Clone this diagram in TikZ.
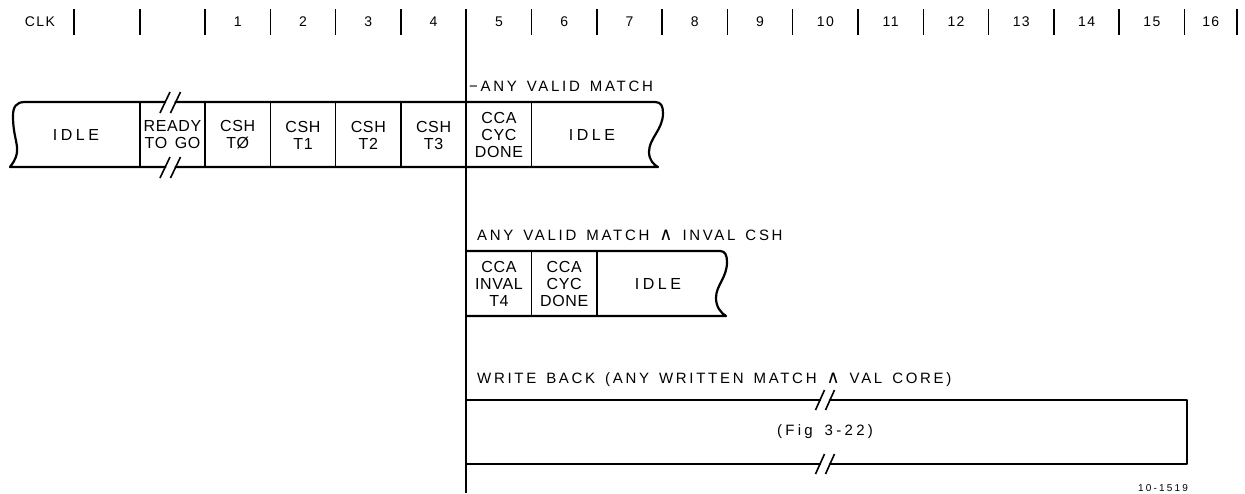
\documentclass[tikz,border=0pt]{standalone}
\usepackage{fontspec}
\setmainfont{Liberation Sans}
\newfontfamily\lblfont[LetterSpace=18,WordSpace=1.45]{Liberation Sans}
\newfontfamily\clkfont[LetterSpace=10]{Liberation Sans}
\newfontfamily\boxfont[LetterSpace=4,WordSpace=1.5]{Liberation Sans}
\newfontfamily\widefont[LetterSpace=22,WordSpace=1.6]{Liberation Sans}
\newfontfamily\andfont{DejaVu Sans}
\newcommand{\landsym}{{\andfont\fontsize{18}{18}\selectfont ∧}}
\begin{document}
\begin{tikzpicture}[x=1pt,y=-1pt,
  boxline/.style={line width=2.2pt,line join=round,line cap=round},
  divline/.style={line width=1.5pt},
  clktick/.style={line width=1.5pt},
  brk/.style={line width=1.6pt},
  clklbl/.style={font=\clkfont\fontsize{14}{16}\selectfont,inner sep=0pt},
  rowlbl/.style={font=\lblfont\fontsize{15}{17}\selectfont,anchor=west,inner sep=0pt},
  cell/.style={font=\boxfont\fontsize{16}{17}\selectfont,align=center,inner sep=0pt},
  idlecell/.style={font=\widefont\fontsize{16}{17}\selectfont,inner sep=0pt},
  figlbl/.style={font=\widefont\fontsize{15}{17}\selectfont,inner sep=0pt},
  codelbl/.style={font=\widefont\fontsize{10}{12}\selectfont,inner sep=0pt}
]
\useasboundingbox (0,0) rectangle (1245,493);

% ---- clock row ----
\node[clklbl] (clk) at (40,22) {CLK};
\foreach \x in {74,140,205,270.3,335.6,400.9,531.5,596.8,662.1,727.4,792.7,858.0,923.3,988.6,1053.9,1119.2,1184.5,1237}
  \draw[clktick] (\x,9) -- (\x,35);
\foreach \n/\x in {1/237.7,2/303,3/368.3,4/433.6,5/498.9,6/564.2,7/629.5,8/694.8,9/760.1,10/825.4,11/890.7,12/956,13/1021.3,14/1086.6,15/1151.9,16/1210.8}
  \node[clklbl] (c\n) at (\x,22) {\n};

% ---- long vertical line ----
\draw[divline] (466.2,9) -- (466.2,493);

% ---- row 1 ----
\node[rowlbl] (lbl1) at (469,86) {−ANY VALID MATCH};
\draw[boxline] (165,102) -- (25,102) .. controls (16,102) and (13,107) .. (13,116)
  .. controls (13,135) and (18,143) .. (17,152) .. controls (16,160) and (12,164) .. (10,167) -- (165.5,167);
\draw[boxline] (175.5,167) -- (658,167) .. controls (654,165) and (649,160) .. (649,152)
  .. controls (649,138) and (663,130) .. (663,113) .. controls (663,106) and (661,102) .. (655,102) -- (175.5,102);
\foreach \c in {165,175.5} {
  \draw[brk] (\c-5,113) -- (\c+5,92);
  \draw[brk] (\c-5,178) -- (\c+5,157);
}
\foreach \x in {140,205,270.3,335.6,400.9,531.5}
  \draw[divline] (\x,102) -- (\x,167);
\node[idlecell] (idle1) at (76,135) {IDLE};
\node[cell] (ready) at (172.5,135) {READY\\TO GO};
\node[cell] (t0) at (237.7,135) {CSH\\TØ};
\node[cell] (t1) at (303,135) {CSH\\T1};
\node[cell] (t2) at (368.3,135) {CSH\\T2};
\node[cell] (t3) at (433.6,135) {CSH\\T3};
\node[cell] (done1) at (498.9,135) {CCA\\CYC\\DONE};
\node[idlecell] (idle2) at (592,135) {IDLE};

% ---- row 2 ----
\node[rowlbl] (lbl2) at (477,235) {ANY VALID MATCH \landsym{} INVAL CSH};
\draw[boxline] (466.2,316) -- (726,316) .. controls (721,313) and (716,307) .. (716,298)
  .. controls (716,285) and (727,278) .. (727,262) .. controls (727,255) and (725,251) .. (720,251) -- (466.2,251);
\foreach \x in {531.5,596.8}
  \draw[divline] (\x,251) -- (\x,316);
\node[cell] (t4) at (498.9,283.5) {CCA\\INVAL\\T4};
\node[cell] (done2) at (564.2,283.5) {CCA\\CYC\\DONE};
\node[idlecell] (idle3) at (658,283.5) {IDLE};

% ---- row 3 ----
\node[rowlbl] (lbl3) at (477,380) {WRITE BACK (ANY WRITTEN MATCH \landsym{} VAL CORE)};
\draw[boxline] (466.2,400) -- (820,400);
\draw[boxline] (830,400) -- (1187,400) -- (1187,464) -- (830,464);
\draw[boxline] (820,464) -- (466.2,464);
\foreach \c in {820,830} {
  \draw[brk] (\c-4.5,410) -- (\c+4.5,390);
  \draw[brk] (\c-4.5,474) -- (\c+4.5,454);
}
\node[figlbl] (fig) at (825,432) {(Fig 3-22)};
\node[codelbl] (code) at (1163,488) {10-1519};
\end{tikzpicture}
\end{document}
